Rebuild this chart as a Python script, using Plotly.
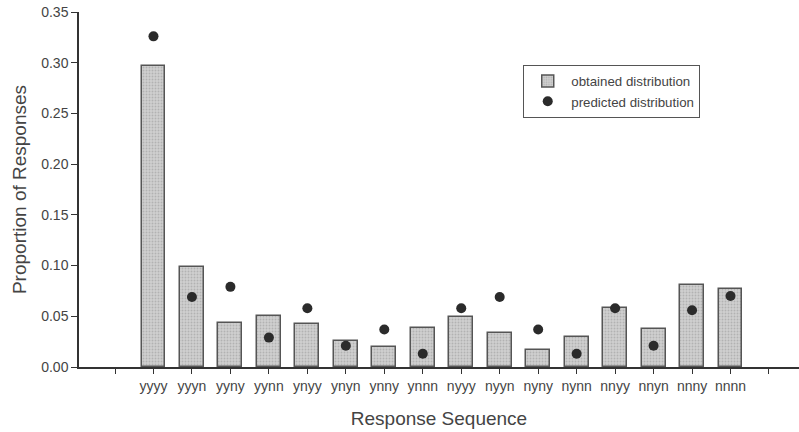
import plotly.graph_objects as go

categories = ["yyyy", "yyyn", "yyny", "yynn", "ynyy", "ynyn", "ynny", "ynnn",
              "nyyy", "nyyn", "nyny", "nynn", "nnyy", "nnyn", "nnny", "nnnn"]
obtained = [0.297, 0.099, 0.043, 0.050, 0.042, 0.026, 0.020, 0.038,
            0.049, 0.034, 0.017, 0.030, 0.058, 0.037, 0.081, 0.077]
predicted = [0.326, 0.069, 0.079, 0.029, 0.058, 0.021, 0.037, 0.013,
             0.058, 0.069, 0.037, 0.013, 0.058, 0.021, 0.056, 0.070]
y_ticks = [0.00, 0.05, 0.10, 0.15, 0.20, 0.25, 0.30, 0.35]

positions = list(range(1, len(categories) + 1))
tick_positions = list(range(0, len(categories) + 2))
tick_text = [""] + categories + [""]

FONT = "Liberation Sans, Arial, sans-serif"
TXT = "#444444"
AX = "#333333"

fig = go.Figure()
fig.add_trace(go.Bar(
    x=positions, y=obtained, width=0.62, name="obtained distribution",
    marker=dict(color="#c8c8c8", line=dict(color="#555555", width=1.5),
                pattern=dict(shape=".", fgcolor="#959595", bgcolor="#cfcfcf",
                             size=3, solidity=0.3)),
))
fig.add_trace(go.Scatter(
    x=positions, y=predicted, mode="markers", name="predicted distribution",
    marker=dict(color="#2b2b2b", size=10),
))

fig.update_layout(
    width=799, height=432,
    margin=dict(l=79, r=0, t=12, b=65, autoexpand=False),
    paper_bgcolor="white", plot_bgcolor="white",
    font=dict(family=FONT, color=TXT, size=13),
    showlegend=True,
    legend=dict(x=0.617, y=0.851, xanchor="left", yanchor="top",
                bordercolor="#555555", borderwidth=1, bgcolor="white",
                font=dict(size=13.3, color=TXT), tracegroupgap=0,
                itemwidth=37),
    bargap=0,
)
fig.update_xaxes(
    range=[-0.936, 17.78], tickmode="array", tickvals=tick_positions,
    ticktext=tick_text, ticks="outside", ticklen=5, tickcolor=AX,
    showline=True, linecolor=AX, linewidth=1.5, showgrid=False, zeroline=False,
    tickfont=dict(size=14, color=TXT), automargin=False,
    title=dict(text="Response Sequence", font=dict(size=19, color=TXT), standoff=19),
)
fig.update_yaxes(
    range=[0, 0.35], tickmode="array", tickvals=y_ticks,
    ticktext=[f"{v:.2f}" for v in y_ticks], ticks="outside", ticklen=6,
    tickcolor=AX, showline=True, linecolor=AX, linewidth=1.5, showgrid=False,
    zeroline=False, tickfont=dict(size=14, color=TXT), automargin=False,
    title=dict(text="Proportion of Responses", font=dict(size=19, color=TXT), standoff=10),
)

fig.write_html("out.html", config={"displayModeBar": False},
               post_script="document.body.style.margin='0';document.body.style.overflow='hidden';")
